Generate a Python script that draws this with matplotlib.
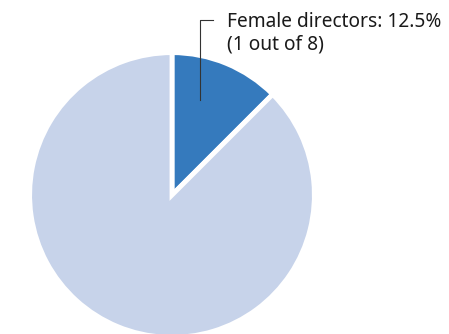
import matplotlib
matplotlib.use("Agg")
from matplotlib import pyplot as plt

labels = ["Female directors", "Male directors"]
counts = [1, 7]
colors = ["#357ABD", "#C7D3EA"]

total = sum(counts)
share = counts[0] / total * 100

plt.rcParams['font.family'] = ['Noto Sans', 'DejaVu Sans']

fig = plt.figure(figsize=(4.49, 3.34), dpi=100)
# radius 1 -> 140 px, centre at (172, 195) px from top-left
ax = fig.add_axes([(172 - 140) / 449, (139 - 140) / 334, 280 / 449, 280 / 334])

# thick white edges give the gap between the two slices
ax.pie(counts, colors=colors, startangle=90, counterclock=False,
       radius=1.017, center=(0, 0), frame=True,
       wedgeprops=dict(edgecolor='white', linewidth=3.5))
ax.set_xlim(-1, 1)
ax.set_ylim(-1, 1)
ax.set_aspect('equal')
ax.axis('off')

# leader line from inside the wedge up and across to the label
ax.plot([0.2, 0.2, 0.29], [0.68, 1.25, 1.25], color='#333333', lw=0.8,
        clip_on=False)
ax.text(0.395, 1.155,
        f"{labels[0]}: {share:.1f}%\n({counts[0]} out of {total})",
        ha='left', va='center', fontsize=13.8, color='#1a1a1a',
        linespacing=1.15, clip_on=False)

fig.savefig("out.png", dpi=100)
